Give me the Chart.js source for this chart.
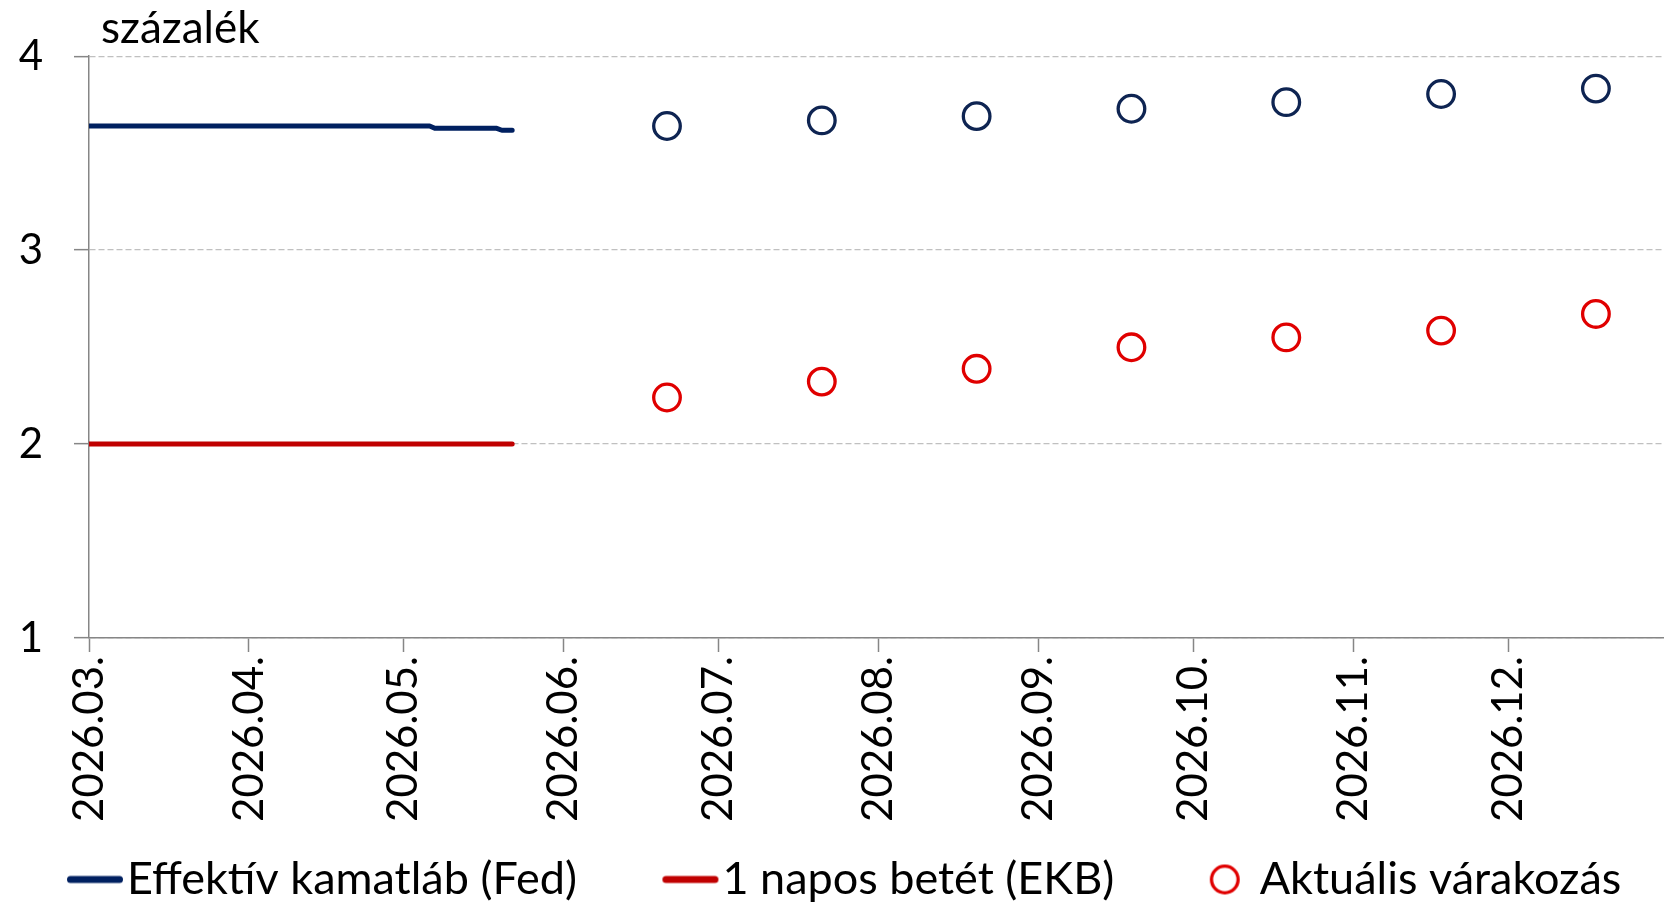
<!DOCTYPE html>
<html><head><meta charset="utf-8">
<script src="https://cdn.jsdelivr.net/npm/chart.js@4.4.1/dist/chart.umd.min.js"></script>
<style>html,body{margin:0;padding:0;background:#fff}#wrap{width:1670px;height:904px}</style>
</head><body><div id="wrap"><canvas id="c" width="1670" height="904"></canvas></div>
<script>
// ---------- data ----------
const UNIT_LABEL = 'százalék';
const AXIS_START = '2026-03-01';
const AXIS_END = '2026-12-31';
const MONTH_TICKS = ['2026-03-01','2026-04-01','2026-05-01','2026-06-01','2026-07-01','2026-08-01','2026-09-01','2026-10-01','2026-11-01','2026-12-01'];
const MONTH_LABELS = ['2026.03.','2026.04.','2026.05.','2026.06.','2026.07.','2026.08.','2026.09.','2026.10.','2026.11.','2026.12.'];
const Y_TICKS = [1, 2, 3, 4];
const SERIES_NAMES = ['Effektív kamatláb (Fed)', '1 napos betét (EKB)', 'Aktuális várakozás'];
const FED_DATES = ['2026-03-01','2026-05-06','2026-05-07','2026-05-19','2026-05-20','2026-05-22'];
const FED_VALUES = [3.64, 3.64, 3.628, 3.628, 3.618, 3.618];
const EKB_DATES = ['2026-03-01','2026-05-22'];
const EKB_VALUES = [2.00, 2.00];
const EXP_DATES = ['2026-06-21','2026-07-21','2026-08-20','2026-09-19','2026-10-19','2026-11-18','2026-12-18'];
const FED_EXP = [3.640, 3.669, 3.691, 3.729, 3.763, 3.805, 3.833];
const EKB_EXP = [2.240, 2.322, 2.388, 2.499, 2.550, 2.585, 2.671];

// ---------- helpers ----------
const DAY_MS = 86400000;
function toUTC(s){ const [y,m,d] = s.split('-').map(Number); return Date.UTC(y, m-1, d); }
const T0 = toUTC(AXIS_START);
function day(s){ return (toUTC(s) - T0) / DAY_MS; }
const pts = (dates, vals) => dates.map((d,i) => ({x: day(d), y: vals[i]}));

const FONT = 'Lato';
const XTICK_FONT = 42, YTICK_FONT = 42;
const LEG_FONT = 45, LEG_BOX = 121, LEG_PAD = 2, LEG_SHIFT = 18.5;
const C_FED_LINE = '#002060', C_EKB_LINE = '#C00000';
const C_FED_EXP = '#0E2452', C_EKB_EXP = '#E00000';
const AXIS_COLOR = '#868686';

function lineSymbol(color){
  const len = 56, lw = 7, gap = 4;
  const right = LEG_BOX/2 + LEG_FONT/2 - gap, left = right - len;
  const half = Math.ceil(Math.max(Math.abs(left), Math.abs(right))) + 1;
  const c = document.createElement('canvas'); c.width = 2*half; c.height = 12;
  const g = c.getContext('2d'); g.strokeStyle = color; g.lineWidth = lw; g.lineCap = 'round';
  g.beginPath(); g.moveTo(half + left + lw/2, 6); g.lineTo(half + right - lw/2, 6); g.stroke();
  return c;
}
function circleSymbol(color){
  const r = 13.3, lw = 3.3, gap = 20;
  const cx = LEG_BOX/2 + LEG_FONT/2 - gap - r - lw/2;
  const half = Math.ceil(Math.abs(cx) + r + lw) + 1;
  const size = Math.ceil(2*(r + lw)) + 2;
  const c = document.createElement('canvas'); c.width = 2*half; c.height = size;
  const g = c.getContext('2d'); g.strokeStyle = color; g.lineWidth = lw;
  g.beginPath(); g.arc(half + cx, size/2, r, 0, Math.PI*2); g.stroke();
  return c;
}
const LEG_SYMBOLS = [lineSymbol(C_FED_LINE), lineSymbol(C_EKB_LINE), circleSymbol(C_EKB_EXP)];
const LEG_DS = [0, 1, 3];

const unitLabel = {
  id: 'unitLabel',
  afterDraw(chart){
    const {ctx, chartArea} = chart;
    ctx.save();
    ctx.font = `44px ${FONT}`;
    ctx.fillStyle = '#000';
    ctx.textBaseline = 'alphabetic';
    ctx.textAlign = 'left';
    ctx.fillText(UNIT_LABEL, chartArea.left + 12, chartArea.top - 13);
    ctx.restore();
  }
};

new Chart(document.getElementById('c'), {
  type: 'line',
  data: {
    datasets: [
      {label: SERIES_NAMES[0], data: pts(FED_DATES, FED_VALUES), borderColor: C_FED_LINE, borderWidth: 5, pointRadius: 0, tension: 0, borderCapStyle: 'round', borderJoinStyle: 'round', fill: false, order: 3},
      {label: SERIES_NAMES[1], data: pts(EKB_DATES, EKB_VALUES), borderColor: C_EKB_LINE, borderWidth: 5, pointRadius: 0, tension: 0, borderCapStyle: 'round', fill: false, order: 2},
      {label: 'Fed várakozás', data: pts(EXP_DATES, FED_EXP), showLine: false, pointStyle: 'circle', pointRadius: 13.3, pointBorderWidth: 3.3, pointBorderColor: C_FED_EXP, pointBackgroundColor: 'rgba(0,0,0,0)', borderColor: C_FED_EXP, order: 1},
      {label: SERIES_NAMES[2], data: pts(EXP_DATES, EKB_EXP), showLine: false, pointStyle: 'circle', pointRadius: 13.3, pointBorderWidth: 3.3, pointBorderColor: C_EKB_EXP, pointBackgroundColor: 'rgba(0,0,0,0)', borderColor: C_EKB_EXP, order: 0}
    ]
  },
  options: {
    responsive: false,
    animation: false,
    devicePixelRatio: 1,
    events: [],
    layout: {autoPadding: false, padding: {top: 55, right: 7, bottom: 0, left: -LEG_SHIFT}},
    plugins: {
      title: {display: false},
      tooltip: {enabled: false},
      legend: {
        position: 'bottom', align: 'start', onClick: null, maxHeight: LEG_FONT + 2*LEG_PAD,
        labels: {
          usePointStyle: true, pointStyleWidth: LEG_BOX, boxHeight: LEG_FONT, padding: LEG_PAD,
          color: '#000', font: {family: FONT, size: LEG_FONT, lineHeight: 1},
          generateLabels: () => SERIES_NAMES.map((t, i) => ({
            text: t, pointStyle: LEG_SYMBOLS[i], fillStyle: 'rgba(0,0,0,0)', strokeStyle: 'rgba(0,0,0,0)',
            lineWidth: 0, hidden: false, datasetIndex: LEG_DS[i], fontColor: '#000'
          }))
        }
      }
    },
    scales: {
      x: {
        type: 'linear', min: 0, max: day(AXIS_END),
        afterBuildTicks: s => { s.ticks = MONTH_TICKS.map(d => ({value: day(d)})); },
        afterFit: s => { s.height = 217; s.paddingRight = 0; s.paddingLeft = 0; },
        ticks: {autoSkip: false, maxRotation: 90, minRotation: 90, padding: 4, color: '#000',
                font: {family: FONT, size: XTICK_FONT}, callback: (v, i) => MONTH_LABELS[i]},
        grid: {drawOnChartArea: false, drawTicks: true, tickLength: 14, tickColor: AXIS_COLOR, tickWidth: 1.5, color: AXIS_COLOR},
        border: {display: true, color: AXIS_COLOR, width: 1.5}
      },
      y: {
        min: Y_TICKS[0], max: Y_TICKS[Y_TICKS.length - 1],
        afterBuildTicks: s => { s.ticks = Y_TICKS.map(v => ({value: v})); },
        afterFit: s => { s.width = 89 + LEG_SHIFT; },
        ticks: {padding: 31, color: '#000', font: {family: FONT, size: YTICK_FONT}, callback: v => String(v)},
        grid: {color: '#C0C0C0', lineWidth: 1.3, tickLength: 15, tickColor: AXIS_COLOR, tickWidth: 1.5, tickBorderDash: []},
        border: {display: true, color: AXIS_COLOR, width: 1.5, dash: [6, 3]}
      }
    }
  },
  plugins: [unitLabel]
});
</script>
</body></html>
